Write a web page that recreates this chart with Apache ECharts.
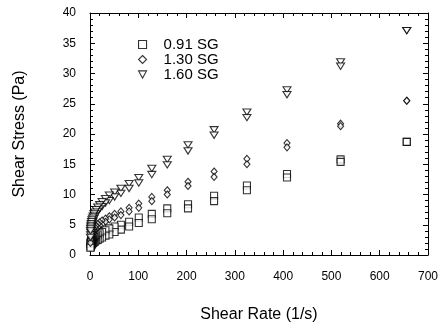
<!DOCTYPE html>
<html>
<head>
<meta charset="utf-8">
<script src="https://cdn.jsdelivr.net/npm/echarts@6/dist/echarts.min.js"></script>
<style>
html,body{margin:0;padding:0;background:#fff;}
#c{width:441px;height:328px;}
</style>
</head>
<body>
<div id="c"></div>
<script>
// Shear rate (1/s) — each rate measured on an up and a down sweep
const shearRate = [656, 519, 408, 325, 257, 203, 160, 128, 101, 81, 64, 51, 40, 32, 25, 20, 16, 12.7, 10.1, 8, 6.4, 5.1, 4, 3.2, 2.5, 2, 1.6, 1.3, 1];

// 0.91 SG
const sg091Up   = [18.7, 15.8, 13.4, 11.5, 9.8, 8.4, 7.7, 6.8, 6.2, 5.5, 5.0, 4.7, 4.4, 4.1, 3.8, 3.6, 3.4, 3.2, 3.0, 2.9, 2.7, 2.6, 2.5, 2.4, 2.3, 2.2, 2.1, 2.0, 1.9];
const sg091Down = [18.7, 15.4, 12.8, 10.7, 8.9, 7.7, 6.9, 5.9, 5.3, 4.7, 4.2, 3.8, 3.4, 3.2, 2.9, 2.7, 2.5, 2.4, 2.2, 2.1, 2.0, 1.9, 1.8, 1.7, 1.6, 1.5, 1.4, 1.3, 1.2];
// 1.30 SG
const sg130Up   = [25.5, 21.7, 18.5, 15.9, 13.8, 12.1, 10.7, 9.6, 8.5, 7.8, 7.2, 6.8, 6.4, 6.0, 5.7, 5.4, 5.1, 4.8, 4.6, 4.3, 4.1, 3.9, 3.7, 3.5, 3.3, 3.1, 2.9, 2.7, 2.5];
const sg130Down = [25.5, 21.3, 17.8, 15.0, 12.9, 11.4, 10.0, 8.9, 7.8, 7.2, 6.6, 6.2, 5.9, 5.5, 5.1, 4.9, 4.6, 4.3, 4.1, 3.9, 3.6, 3.4, 3.2, 3.0, 2.8, 2.6, 2.4, 2.2, 2.0];
// 1.60 SG
const sg160Up   = [37.1, 31.9, 27.3, 23.6, 20.7, 18.2, 15.8, 14.3, 12.8, 11.8, 11.0, 10.4, 9.9, 9.3, 8.8, 8.3, 7.9, 7.5, 7.1, 6.8, 6.4, 6.1, 5.8, 5.5, 5.2, 4.9, 4.6, 4.3, 4.0];
const sg160Down = [37.1, 31.2, 26.5, 22.7, 19.8, 17.2, 14.9, 13.3, 11.9, 11.0, 10.2, 9.6, 9.0, 8.6, 8.0, 7.6, 7.2, 6.8, 6.4, 6.0, 5.6, 5.3, 4.9, 4.6, 4.3, 4.0, 3.7, 3.3, 2.9];

const seriesNames = ['0.91 SG', '1.30 SG', '1.60 SG'];
const xTicks = [0, 100, 200, 300, 400, 500, 600, 700];
const yTicks = [0, 5, 10, 15, 20, 25, 30, 35, 40];

function pairs(up, down) {
  const d = [];
  shearRate.forEach((r, i) => { d.push([r, up[i]]); d.push([r, down[i]]); });
  return d;
}

const font = 'Liberation Sans, Arial, Helvetica, sans-serif';
const mk = {color: '#fff', borderColor: '#000', borderWidth: 1.1};
const invTri = 'path://M0,0L10,0L5,9Z';

const chart = echarts.init(document.getElementById('c'), null, {renderer: 'canvas'});

const baseX = {
  type: 'value', min: xTicks[0], max: xTicks[xTicks.length - 1], interval: 100,
  splitLine: {show: false},
  axisLine: {show: true, onZero: false, lineStyle: {color: '#000', width: 1}},
  axisTick: {show: true, inside: true, length: 5, lineStyle: {color: '#000'}},
  minorTick: {show: true, splitNumber: 5, length: 3, lineStyle: {color: '#000'}},
};
const baseY = {
  type: 'value', min: yTicks[0], max: yTicks[yTicks.length - 1], interval: 5,
  splitLine: {show: false},
  axisLine: {show: true, onZero: false, lineStyle: {color: '#000', width: 1}},
  axisTick: {show: true, inside: true, length: 5, lineStyle: {color: '#000'}},
  minorTick: {show: true, splitNumber: 5, length: 3, lineStyle: {color: '#000'}},
};

chart.setOption({
  backgroundColor: '#fff',
  animation: false,
  grid: {left: 90, right: 13, top: 13, bottom: 71, containLabel: false},
  legend: {
    orient: 'vertical', left: 133, top: 32,
    itemWidth: 8, itemHeight: 8, itemGap: 0,
    textStyle: {fontFamily: font, fontSize: 15, color: '#000', lineHeight: 15, padding: [0, 0, 0, 12]},
    data: [
      {name: seriesNames[0], icon: 'rect', itemStyle: {color: '#fff', borderColor: '#000', borderWidth: 1.1}},
      {name: seriesNames[1], icon: 'diamond', itemStyle: {color: '#fff', borderColor: '#000', borderWidth: 1.1}},
      {name: seriesNames[2], icon: invTri, itemStyle: {color: '#fff', borderColor: '#000', borderWidth: 1.1}}
    ]
  },
  xAxis: [
    Object.assign({}, baseX, {
      position: 'bottom',
      name: 'Shear Rate (1/s)', nameLocation: 'middle', nameGap: 52,
      nameTextStyle: {fontFamily: font, fontSize: 16, color: '#000'},
      axisLabel: {show: true, margin: 16, fontFamily: font, fontSize: 12, color: '#000'}
    }),
    Object.assign({}, baseX, {position: 'top', axisLabel: {show: false}})
  ],
  yAxis: [
    Object.assign({}, baseY, {
      position: 'left',
      name: 'Shear Stress (Pa)', nameLocation: 'middle', nameGap: 62,
      nameTextStyle: {fontFamily: font, fontSize: 16, color: '#000'},
      axisLabel: {show: true, margin: 14, fontFamily: font, fontSize: 12, color: '#000'}
    }),
    Object.assign({}, baseY, {position: 'right', axisLabel: {show: false}})
  ],
  series: [
    {name: seriesNames[0], type: 'scatter', symbol: 'rect', symbolSize: 7, itemStyle: mk, data: pairs(sg091Up, sg091Down)},
    {name: seriesNames[1], type: 'scatter', symbol: 'diamond', symbolSize: [6, 7], itemStyle: mk, data: pairs(sg130Up, sg130Down)},
    {name: seriesNames[2], type: 'scatter', symbol: invTri, symbolKeepAspect: true, symbolSize: [8, 7], itemStyle: mk, data: pairs(sg160Up, sg160Down)}
  ]
});
</script>
</body>
</html>
